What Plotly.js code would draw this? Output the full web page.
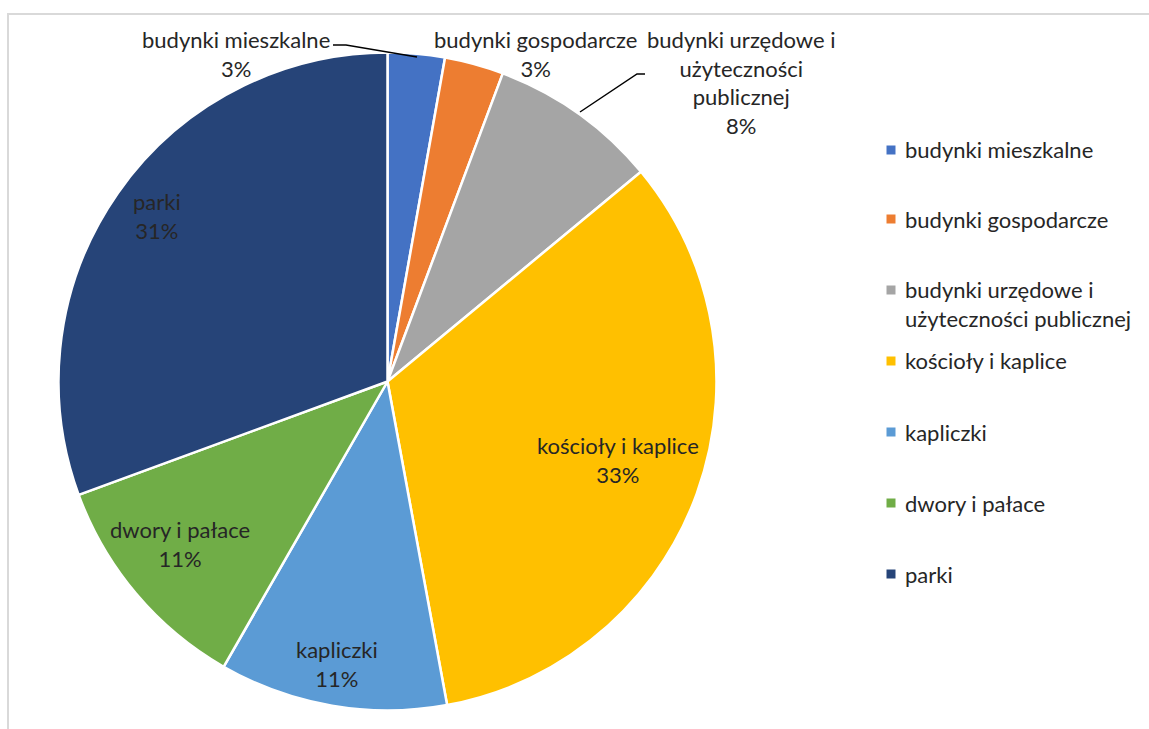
<!DOCTYPE html>
<html>
<head>
<meta charset="utf-8">
<script src="https://cdn.plot.ly/plotly-3.0.1.min.js"></script>
<style>
  html, body { margin: 0; padding: 0; background: #fff; }
  #chart { width: 1149px; height: 729px; }
</style>
</head>
<body>
<div id="chart"></div>
<script>
// ---- data ----
const categories = [
  "budynki mieszkalne",
  "budynki gospodarcze",
  "budynki urzędowe i użyteczności publicznej",
  "kościoły i kaplice",
  "kapliczki",
  "dwory i pałace",
  "parki"
];
const shares = [2.8, 2.9, 8.3, 33.1, 11.2, 11.1, 30.6];
const colors = ["#4472C4", "#ED7D31", "#A5A5A5", "#FFC000", "#5B9BD5", "#70AD47", "#264478"];

// label line breaks for the pie labels and the legend
const pieLabelLines = [
  ["budynki mieszkalne"],
  ["budynki gospodarcze"],
  ["budynki urzędowe i", "użyteczności", "publicznej"],
  ["kościoły i kaplice"],
  ["kapliczki"],
  ["dwory i pałace"],
  ["parki"]
];
const legendLines = [
  ["budynki mieszkalne"],
  ["budynki gospodarcze"],
  ["budynki urzędowe i", "użyteczności publicznej"],
  ["kościoły i kaplice"],
  ["kapliczki"],
  ["dwory i pałace"],
  ["parki"]
];

// ---- layout constants (pixels) ----
const W = 1149, H = 729;
const px = x => x / W;
const py = y => 1 - y / H;
const FONT = "Lato, 'Open Sans', sans-serif";
const FS = 22;
const TXT = "#262626";

// pie geometry
const cx = 387.5, cy = 381.5, R = 329;
// label centre positions (pixels)
const labelPos = [
  [236, 54], [535, 54], [741, 82], [618, 460], [337, 664], [180, 544], [157, 216]
];
// legend first-line centre y positions
const legendY = [150, 219, 290, 361, 432, 503, 574];
const legendSquareX = 891, legendTextX = 903, sq = 9;

const total = shares.reduce((a, b) => a + b, 0);

const annotations = [];
categories.forEach((c, i) => {
  const pct = Math.round(shares[i] / total * 100) + "%";
  const lines = pieLabelLines[i].concat([pct]);
  annotations.push({
    xref: "paper", yref: "paper",
    x: px(labelPos[i][0]), y: py(labelPos[i][1]),
    xanchor: "center", yanchor: "middle", align: "center",
    text: lines.join("<br>"), showarrow: false,
    font: { family: FONT, size: FS, color: TXT }
  });
});

const shapes = [];
// legend
categories.forEach((c, i) => {
  const n = legendLines[i].length;
  const lh = FS * 1.3;
  const centre = legendY[i] + (n - 1) * lh / 2;
  annotations.push({
    xref: "paper", yref: "paper",
    x: px(legendTextX), y: py(centre),
    xanchor: "left", yanchor: "middle", align: "left",
    text: legendLines[i].join("<br>"), showarrow: false,
    font: { family: FONT, size: FS, color: TXT }
  });
  shapes.push({
    type: "rect", xref: "paper", yref: "paper",
    x0: px(legendSquareX - sq / 2), x1: px(legendSquareX + sq / 2),
    y0: py(legendY[i] + sq / 2), y1: py(legendY[i] - sq / 2),
    fillcolor: colors[i], line: { width: 0 }
  });
});

// leader lines
function pathPx(points) {
  return "M" + points.map(p => px(p[0]) + "," + py(p[1])).join(" L");
}
shapes.push({
  type: "path", xref: "paper", yref: "paper",
  path: pathPx([[333, 45], [346, 45], [417, 57]]),
  line: { color: "#000", width: 1.5 }
});
shapes.push({
  type: "path", xref: "paper", yref: "paper",
  path: pathPx([[580, 112], [637, 74], [645, 74]]),
  line: { color: "#000", width: 1.5 }
});
// chart area border (left and top visible)
shapes.push({
  type: "path", xref: "paper", yref: "paper",
  path: pathPx([[8, H + 5], [8, 14], [W + 5, 14]]),
  line: { color: "#D9D9D9", width: 2 }
});

const trace = {
  type: "pie",
  labels: categories,
  values: shares,
  sort: false,
  direction: "clockwise",
  rotation: 0,
  marker: { colors: colors, line: { color: "#FFFFFF", width: 2.5 } },
  textinfo: "none",
  hoverinfo: "none",
  domain: { x: [px(cx - R), px(cx + R)], y: [py(cy + R), py(cy - R)] }
};

const layout = {
  width: W, height: H,
  margin: { l: 0, r: 0, t: 0, b: 0 },
  paper_bgcolor: "#fff",
  showlegend: false,
  annotations: annotations,
  shapes: shapes,
  font: { family: FONT, size: FS, color: TXT }
};

Plotly.newPlot("chart", [trace], layout, { staticPlot: true, displayModeBar: false });
</script>
</body>
</html>
